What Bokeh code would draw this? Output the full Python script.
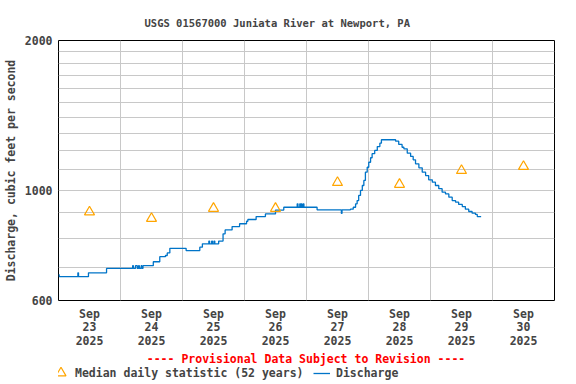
from bokeh.plotting import figure
from bokeh.layouts import column
from bokeh.models import FixedTicker, Legend, LegendItem, Label
from bokeh.embed import file_html
from bokeh.resources import INLINE

# ---- data ----
# hours since Sep 23 2025 00:00, discharge (cfs), drawn as steps
t_hours = [0.0, 0.25, 7.5, 7.75, 11.6, 18.6,
           28.7, 29.0, 29.8, 30.5, 31.0, 31.3, 32.0, 32.3, 32.7,
           36.7, 39.2, 41.4, 42.1, 43.1, 49.4, 54.7, 55.7,
           58.2, 58.5, 59.3, 59.6, 60.2, 60.5, 62.0,
           63.7, 64.5, 67.2, 70.1, 72.8, 73.3, 76.5, 80.1, 84.0, 87.2,
           92.4, 92.7, 93.4, 93.7, 93.9, 94.2, 94.7, 95.0,
           100.1, 109.5, 109.75,
           113.0, 114.1, 115.0, 115.6, 116.2, 116.9, 117.6, 118.2, 118.8, 119.5,
           120.1, 120.8, 121.4, 122.4, 123.4, 124.4, 125.0,
           130.5, 131.7, 133.0, 133.7, 135.0, 136.3, 137.3, 138.2, 139.5,
           140.8, 142.1, 143.3, 144.7, 145.9, 147.2, 148.5, 149.8, 151.1,
           152.4, 153.7, 154.9, 156.3, 157.5, 158.8, 160.1, 161.4, 162.1, 163.6]
q_cfs = [676, 670, 682, 670, 682, 696,
         705, 696, 705, 696, 705, 696, 705, 696, 705,
         718, 735, 739, 748, 764, 756, 768, 780,
         790, 780, 790, 780, 790, 780, 790,
         817, 832, 845, 856, 866, 873, 885, 896, 912, 924,
         939, 924, 939, 924, 939, 924, 939, 924,
         913, 898, 913,
         916, 924, 939, 953, 976, 999, 1022, 1046, 1087, 1112,
         1138, 1162, 1184, 1202, 1224, 1243, 1263,
         1255, 1236, 1220, 1211, 1187, 1169, 1151, 1130, 1109,
         1087, 1070, 1049, 1038, 1022, 1007, 991, 983, 968,
         953, 946, 936, 927, 916, 906, 899, 894, 885, 885]

median_hours = [12, 36, 60, 84, 108, 132, 156, 180]
median_cfs = [904, 877, 919, 919, 1036, 1027, 1095, 1116]

day_labels = ["Sep\n23\n2025", "Sep\n24\n2025", "Sep\n25\n2025", "Sep\n26\n2025",
              "Sep\n27\n2025", "Sep\n28\n2025", "Sep\n29\n2025", "Sep\n30\n2025"]
day_bounds = [0, 24, 48, 72, 96, 120, 144, 168, 192]
y_ticks = [600, 1000, 2000]
y_grid = [700, 800, 900, 1000, 1100, 1200, 1300, 1400, 1500, 1600, 1700, 1800, 1900]

FONT = "DejaVu Sans Mono"
FS = "11.5px"
BLUE = "#0074c8"
ORANGE = "#ffa500"

p = figure(width=576, height=350, y_axis_type="log",
           x_range=(0, 192), y_range=(600, 2000),
           output_backend="svg", toolbar_location=None,
           min_border_left=58, min_border_right=22,
           min_border_top=40, min_border_bottom=50)

p.title.text = "USGS 01567000 Juniata River at Newport, PA"
p.title.text_font = FONT
p.title.text_font_size = "10.5px"
p.title.text_font_style = "bold"
p.title.align = "left"
p.title.offset = 86
p.title.standoff = 23

p.outline_line_color = "black"
p.outline_line_width = 1
p.background_fill_color = "white"

# grids
p.xgrid.ticker = FixedTicker(ticks=day_bounds)
p.ygrid.ticker = FixedTicker(ticks=y_grid)
for g in (p.xgrid, p.ygrid):
    g.grid_line_color = "#c8c8c8"
    g.grid_line_width = 1

# x axis
p.xaxis.ticker = FixedTicker(ticks=median_hours)
p.xaxis.major_label_overrides = {h: lab for h, lab in zip(median_hours, day_labels)}
p.xaxis.major_tick_line_color = None
p.xaxis.minor_tick_line_color = None
p.xaxis.major_tick_out = 0
p.xaxis.major_tick_in = 0
p.xaxis.axis_line_color = None
p.xaxis.major_label_standoff = 6
p.xaxis.major_label_text_font = FONT
p.xaxis.major_label_text_font_size = FS
p.xaxis.major_label_text_font_style = "bold"
p.xaxis.major_label_text_line_height = 0.97

# y axis
p.yaxis.ticker = FixedTicker(ticks=y_ticks)
p.yaxis.major_label_overrides = {v: str(v) for v in y_ticks}
p.yaxis.major_tick_line_color = None
p.yaxis.minor_tick_line_color = None
p.yaxis.major_tick_out = 0
p.yaxis.major_tick_in = 0
p.yaxis.axis_line_color = None
p.yaxis.major_label_standoff = 6
p.yaxis.major_label_text_font = FONT
p.yaxis.major_label_text_font_size = FS
p.yaxis.major_label_text_font_style = "bold"
p.yaxis.axis_label = "Discharge, cubic feet per second"
p.yaxis.axis_label_text_font = FONT
p.yaxis.axis_label_text_font_size = FS
p.yaxis.axis_label_text_font_style = "bold"
p.yaxis.axis_label_standoff = 4

p.step(t_hours, q_cfs, mode="after", line_color=BLUE, line_width=1.3)
p.scatter(median_hours, median_cfs, marker="triangle", size=10,
          line_color=ORANGE, fill_color=None, line_width=1.2)

# ---- footer: provisional note + legend (frame aligns with main frame) ----
f = figure(width=576, height=34, x_range=(0, 1), y_range=(0, 1),
           output_backend="svg", toolbar_location=None,
           x_axis_location=None, y_axis_location=None,
           min_border_left=58, min_border_right=22, min_border_top=0, min_border_bottom=0,
           outline_line_color=None)
f.grid.visible = False
# legend proxies placed outside the visible range
leg_tri = f.scatter([-9], [-9], marker="triangle", size=10,
                    line_color=ORANGE, fill_color=None, line_width=1.2)
leg_line = f.line([-9, -8], [-9, -8], line_color=BLUE, line_width=1.3)

f.add_layout(Label(x=247.5, y=26, x_units="screen", y_units="screen",
                   text="---- Provisional Data Subject to Revision ----",
                   text_align="center", text_baseline="middle",
                   text_color="red", text_font=FONT, text_font_size=FS,
                   text_font_style="bold"))

common = dict(orientation="horizontal",
              label_text_font=FONT, label_text_font_size=FS, label_text_font_style="bold",
              border_line_color=None, background_fill_alpha=0,
              padding=0, margin=0, label_height=12)
leg1 = Legend(items=[LegendItem(label="Median daily statistic (52 years)", renderers=[leg_tri])],
              location=(-10, -1), glyph_width=25, glyph_height=25, label_standoff=2, **common)
leg2 = Legend(items=[LegendItem(label="Discharge", renderers=[leg_line])],
              location=(255, 4), glyph_width=17, glyph_height=12, label_standoff=6, **common)
f.add_layout(leg1, "center")
f.add_layout(leg2, "center")

open("out.html", "w").write(file_html(column(p, f, spacing=0), INLINE))
